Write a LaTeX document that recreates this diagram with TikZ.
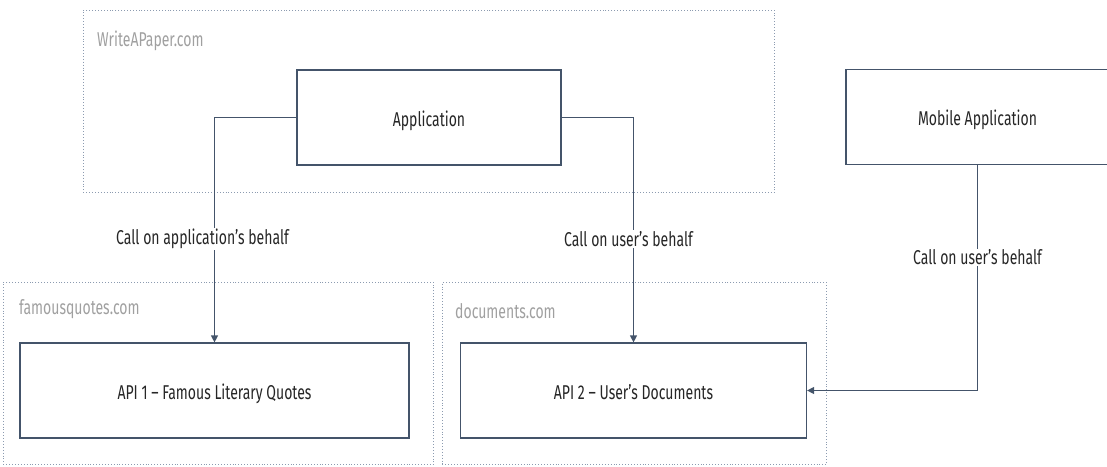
\documentclass[tikz,border=0pt]{standalone}
\usepackage{fontspec}
\setmainfont[FakeStretch=0.7]{Fira Sans}
\usetikzlibrary{positioning,arrows.meta}
\definecolor{slate}{HTML}{44546A}
\definecolor{dotgray}{HTML}{8C9BB0}
\definecolor{labelgray}{HTML}{A0A0A0}
\definecolor{darktext}{HTML}{262626}

\begin{document}
\begin{tikzpicture}[x = 1pt, y = -1pt, font = \fontsize{20}{24}\selectfont,
		zone/.style = {rectangle, draw = dotgray, dotted, line width = 0.9pt,
					anchor = north west, inner sep = 0pt},
		zonelabel/.style = {text = labelgray, anchor = west, inner sep = 0pt},
		system/.style = {rectangle, draw = slate, line width = 1.2pt, fill = white,
					text = darktext, inner sep = 0pt, minimum height = 95pt,
					text depth = 0pt, text height = 17pt},
		call/.style = {draw = slate, line width = 1.2pt, -{Triangle[width = 7pt, length = 7pt]}},
		calllabel/.style = {fill = white, text = darktext, inner sep = 1pt}]
	\useasboundingbox (0,0) rectangle (1107,466);
	% zones
	\node (writeapaper) [zone, minimum width = 691pt, minimum height = 182pt] at (83,10) {};
	\node (famousquotes) [zone, minimum width = 430pt, minimum height = 182pt] at (3,282) {};
	\node (documents) [zone, minimum width = 384pt, minimum height = 182pt] at (442,282) {};
	\node (L1) [zonelabel] at (97,41) {WriteAPaper.com};
	\node (L2) [zonelabel] at (19,309) {famousquotes.com};
	\node (L3) [zonelabel] at (455,311) {documents.com};
	% systems
	\node (app) [system, minimum width = 264pt] at (429,117.5) {Application};
	\node (mobile) [system, minimum width = 263pt] at (977.5,117) {Mobile Application};
	\node (api1) [system, minimum width = 389pt] at (214.5,390.5) {API 1 -- Famous Literary Quotes};
	\node (api2) [system, minimum width = 346pt] at (633.5,390.5) {API 2 -- User's Documents};
	% calls
	\draw [call] (app.west) -| (api1.north)
		node [calllabel, pos = 0.77, xshift = -12pt] {Call on application's behalf};
	\draw [call] (app.east) -| (api2.north)
		node [calllabel, pos = 0.77, xshift = -5pt] {Call on user's behalf};
	\draw [call] (mobile.south) |- (api2.east)
		node [calllabel, pos = 0.205] {Call on user's behalf};
\end{tikzpicture}
\end{document}
